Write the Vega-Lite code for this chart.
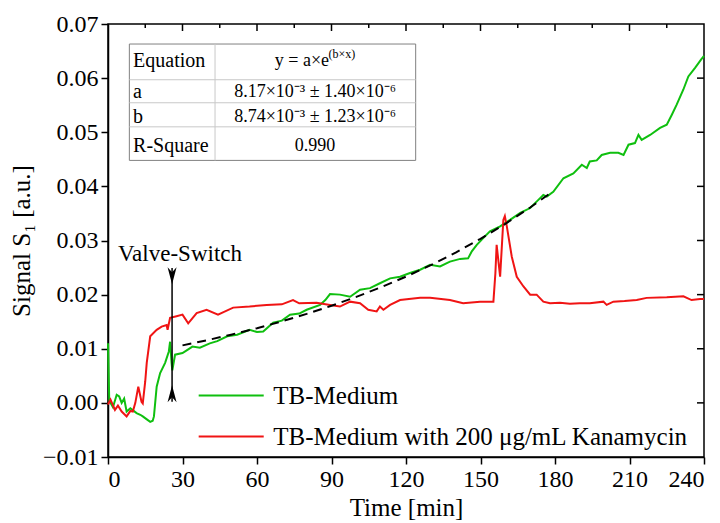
{
  "$schema": "https://vega.github.io/schema/vega-lite/v6.json",
  "width": 596,
  "height": 433,
  "autosize": {"type": "none"},
  "padding": {"left": 108, "top": 24, "right": 16, "bottom": 66},
  "background": "white",
  "config": {
    "font": "Liberation Serif",
    "view": {"stroke": "black", "strokeWidth": 1.5},
    "axis": {
      "grid": false,
      "domainColor": "black",
      "domainWidth": 1.5,
      "tickColor": "black",
      "tickWidth": 1.5,
      "labelColor": "black",
      "titleColor": "black",
      "labelFont": "Liberation Serif",
      "titleFont": "Liberation Serif",
      "labelFontSize": 24,
      "titleFontSize": 25,
      "titleFontWeight": "normal"
    },
    "legend": {
      "labelFont": "Liberation Serif",
      "labelFontSize": 25,
      "labelColor": "black"
    }
  },
  "datasets": {
    "series": [
      {"series": "TB-Medium", "t": 0, "v": 0.011},
      {"series": "TB-Medium", "t": 0.5, "v": 0.0005},
      {"series": "TB-Medium", "t": 1, "v": 0.0},
      {"series": "TB-Medium", "t": 2, "v": -0.0008},
      {"series": "TB-Medium", "t": 3.5, "v": 0.0015},
      {"series": "TB-Medium", "t": 4.5, "v": 0.0012},
      {"series": "TB-Medium", "t": 5.5, "v": 0.0},
      {"series": "TB-Medium", "t": 6.5, "v": 0.0008},
      {"series": "TB-Medium", "t": 7.5, "v": -0.0016},
      {"series": "TB-Medium", "t": 9, "v": -0.001},
      {"series": "TB-Medium", "t": 11.5, "v": -0.0019},
      {"series": "TB-Medium", "t": 13, "v": -0.0022},
      {"series": "TB-Medium", "t": 14, "v": -0.0025},
      {"series": "TB-Medium", "t": 15.5, "v": -0.003},
      {"series": "TB-Medium", "t": 17, "v": -0.0035},
      {"series": "TB-Medium", "t": 18, "v": -0.0033},
      {"series": "TB-Medium", "t": 18.5, "v": -0.0025},
      {"series": "TB-Medium", "t": 19.6, "v": 0.003},
      {"series": "TB-Medium", "t": 21, "v": 0.0055},
      {"series": "TB-Medium", "t": 23, "v": 0.0074},
      {"series": "TB-Medium", "t": 24.5, "v": 0.0095},
      {"series": "TB-Medium", "t": 25, "v": 0.0113},
      {"series": "TB-Medium", "t": 25.6, "v": 0.0074},
      {"series": "TB-Medium", "t": 25.9, "v": 0.006},
      {"series": "TB-Medium", "t": 27, "v": 0.0089},
      {"series": "TB-Medium", "t": 30, "v": 0.0092},
      {"series": "TB-Medium", "t": 32, "v": 0.0098},
      {"series": "TB-Medium", "t": 34, "v": 0.0104},
      {"series": "TB-Medium", "t": 37, "v": 0.0102},
      {"series": "TB-Medium", "t": 41, "v": 0.011},
      {"series": "TB-Medium", "t": 44, "v": 0.0114},
      {"series": "TB-Medium", "t": 48, "v": 0.0123},
      {"series": "TB-Medium", "t": 52, "v": 0.0126},
      {"series": "TB-Medium", "t": 57, "v": 0.0135},
      {"series": "TB-Medium", "t": 60, "v": 0.0131},
      {"series": "TB-Medium", "t": 62.5, "v": 0.0132},
      {"series": "TB-Medium", "t": 66.5, "v": 0.0148},
      {"series": "TB-Medium", "t": 70, "v": 0.0152},
      {"series": "TB-Medium", "t": 73.3, "v": 0.0163},
      {"series": "TB-Medium", "t": 77, "v": 0.0165},
      {"series": "TB-Medium", "t": 80, "v": 0.0172},
      {"series": "TB-Medium", "t": 85.4, "v": 0.0181},
      {"series": "TB-Medium", "t": 87.5, "v": 0.019},
      {"series": "TB-Medium", "t": 89.4, "v": 0.0201},
      {"series": "TB-Medium", "t": 93.4, "v": 0.02},
      {"series": "TB-Medium", "t": 97.5, "v": 0.0196},
      {"series": "TB-Medium", "t": 101.5, "v": 0.0209},
      {"series": "TB-Medium", "t": 105.5, "v": 0.0212},
      {"series": "TB-Medium", "t": 109.5, "v": 0.0221},
      {"series": "TB-Medium", "t": 113.6, "v": 0.023},
      {"series": "TB-Medium", "t": 117.6, "v": 0.0233},
      {"series": "TB-Medium", "t": 121.6, "v": 0.024},
      {"series": "TB-Medium", "t": 125.7, "v": 0.0246},
      {"series": "TB-Medium", "t": 129.7, "v": 0.0255},
      {"series": "TB-Medium", "t": 133.7, "v": 0.0252},
      {"series": "TB-Medium", "t": 137.7, "v": 0.0261},
      {"series": "TB-Medium", "t": 141.8, "v": 0.0266},
      {"series": "TB-Medium", "t": 145, "v": 0.0267},
      {"series": "TB-Medium", "t": 146.5, "v": 0.028},
      {"series": "TB-Medium", "t": 148.5, "v": 0.0292},
      {"series": "TB-Medium", "t": 151, "v": 0.0304},
      {"series": "TB-Medium", "t": 153.8, "v": 0.0317},
      {"series": "TB-Medium", "t": 157.9, "v": 0.0326},
      {"series": "TB-Medium", "t": 161.9, "v": 0.0338},
      {"series": "TB-Medium", "t": 166, "v": 0.0351},
      {"series": "TB-Medium", "t": 170, "v": 0.036},
      {"series": "TB-Medium", "t": 173.3, "v": 0.0375},
      {"series": "TB-Medium", "t": 175.3, "v": 0.0384},
      {"series": "TB-Medium", "t": 176.7, "v": 0.0381},
      {"series": "TB-Medium", "t": 179.3, "v": 0.039},
      {"series": "TB-Medium", "t": 183.4, "v": 0.0415},
      {"series": "TB-Medium", "t": 187.4, "v": 0.0424},
      {"series": "TB-Medium", "t": 190.8, "v": 0.044},
      {"series": "TB-Medium", "t": 192.8, "v": 0.0434},
      {"series": "TB-Medium", "t": 194, "v": 0.0446},
      {"series": "TB-Medium", "t": 196.8, "v": 0.0448},
      {"series": "TB-Medium", "t": 198.8, "v": 0.0458},
      {"series": "TB-Medium", "t": 202.2, "v": 0.0462},
      {"series": "TB-Medium", "t": 205.5, "v": 0.0462},
      {"series": "TB-Medium", "t": 207.6, "v": 0.0458},
      {"series": "TB-Medium", "t": 209.6, "v": 0.0477},
      {"series": "TB-Medium", "t": 212.2, "v": 0.048},
      {"series": "TB-Medium", "t": 213.6, "v": 0.0495},
      {"series": "TB-Medium", "t": 214.9, "v": 0.0486},
      {"series": "TB-Medium", "t": 218.3, "v": 0.0495},
      {"series": "TB-Medium", "t": 222.3, "v": 0.0508},
      {"series": "TB-Medium", "t": 225, "v": 0.0514},
      {"series": "TB-Medium", "t": 227, "v": 0.0532},
      {"series": "TB-Medium", "t": 229, "v": 0.0551},
      {"series": "TB-Medium", "t": 231.7, "v": 0.0579},
      {"series": "TB-Medium", "t": 233.7, "v": 0.0603},
      {"series": "TB-Medium", "t": 236.4, "v": 0.0619},
      {"series": "TB-Medium", "t": 238.8, "v": 0.0634},
      {"series": "TB-Medium", "t": 240, "v": 0.0641},
      {"series": "TB-Medium with 200 μg/mL Kanamycin", "t": 0, "v": -0.0003},
      {"series": "TB-Medium with 200 μg/mL Kanamycin", "t": 1, "v": 0.0006},
      {"series": "TB-Medium with 200 μg/mL Kanamycin", "t": 2.8, "v": -0.0013},
      {"series": "TB-Medium with 200 μg/mL Kanamycin", "t": 4, "v": -0.0005},
      {"series": "TB-Medium with 200 μg/mL Kanamycin", "t": 5.5, "v": -0.0016},
      {"series": "TB-Medium with 200 μg/mL Kanamycin", "t": 7.5, "v": -0.0025},
      {"series": "TB-Medium with 200 μg/mL Kanamycin", "t": 9, "v": -0.0015},
      {"series": "TB-Medium with 200 μg/mL Kanamycin", "t": 10, "v": -0.0016},
      {"series": "TB-Medium with 200 μg/mL Kanamycin", "t": 11, "v": 0.0},
      {"series": "TB-Medium with 200 μg/mL Kanamycin", "t": 12.2, "v": 0.003},
      {"series": "TB-Medium with 200 μg/mL Kanamycin", "t": 13.5, "v": 0.0002},
      {"series": "TB-Medium with 200 μg/mL Kanamycin", "t": 14, "v": -0.0001},
      {"series": "TB-Medium with 200 μg/mL Kanamycin", "t": 15, "v": 0.004},
      {"series": "TB-Medium with 200 μg/mL Kanamycin", "t": 15.6, "v": 0.0074},
      {"series": "TB-Medium with 200 μg/mL Kanamycin", "t": 17, "v": 0.0123},
      {"series": "TB-Medium with 200 μg/mL Kanamycin", "t": 19.6, "v": 0.0135},
      {"series": "TB-Medium with 200 μg/mL Kanamycin", "t": 21.6, "v": 0.0141},
      {"series": "TB-Medium with 200 μg/mL Kanamycin", "t": 23.6, "v": 0.0144},
      {"series": "TB-Medium with 200 μg/mL Kanamycin", "t": 24, "v": 0.0135},
      {"series": "TB-Medium with 200 μg/mL Kanamycin", "t": 25, "v": 0.0157},
      {"series": "TB-Medium with 200 μg/mL Kanamycin", "t": 27.6, "v": 0.016},
      {"series": "TB-Medium with 200 μg/mL Kanamycin", "t": 30, "v": 0.0163},
      {"series": "TB-Medium with 200 μg/mL Kanamycin", "t": 32.3, "v": 0.0147},
      {"series": "TB-Medium with 200 μg/mL Kanamycin", "t": 35.7, "v": 0.0166},
      {"series": "TB-Medium with 200 μg/mL Kanamycin", "t": 39.7, "v": 0.0172},
      {"series": "TB-Medium with 200 μg/mL Kanamycin", "t": 44.3, "v": 0.0163},
      {"series": "TB-Medium with 200 μg/mL Kanamycin", "t": 50.4, "v": 0.0176},
      {"series": "TB-Medium with 200 μg/mL Kanamycin", "t": 57, "v": 0.0178},
      {"series": "TB-Medium with 200 μg/mL Kanamycin", "t": 63.9, "v": 0.0181},
      {"series": "TB-Medium with 200 μg/mL Kanamycin", "t": 70, "v": 0.0182},
      {"series": "TB-Medium with 200 μg/mL Kanamycin", "t": 74.5, "v": 0.019},
      {"series": "TB-Medium with 200 μg/mL Kanamycin", "t": 77, "v": 0.0184},
      {"series": "TB-Medium with 200 μg/mL Kanamycin", "t": 84, "v": 0.0185},
      {"series": "TB-Medium with 200 μg/mL Kanamycin", "t": 89.4, "v": 0.0181},
      {"series": "TB-Medium with 200 μg/mL Kanamycin", "t": 93.4, "v": 0.0178},
      {"series": "TB-Medium with 200 μg/mL Kanamycin", "t": 97.5, "v": 0.0187},
      {"series": "TB-Medium with 200 μg/mL Kanamycin", "t": 101.5, "v": 0.0184},
      {"series": "TB-Medium with 200 μg/mL Kanamycin", "t": 104.8, "v": 0.0172},
      {"series": "TB-Medium with 200 μg/mL Kanamycin", "t": 108.2, "v": 0.0169},
      {"series": "TB-Medium with 200 μg/mL Kanamycin", "t": 109.5, "v": 0.0178},
      {"series": "TB-Medium with 200 μg/mL Kanamycin", "t": 110.9, "v": 0.0172},
      {"series": "TB-Medium with 200 μg/mL Kanamycin", "t": 113.6, "v": 0.0181},
      {"series": "TB-Medium with 200 μg/mL Kanamycin", "t": 117.6, "v": 0.019},
      {"series": "TB-Medium with 200 μg/mL Kanamycin", "t": 125.7, "v": 0.0194},
      {"series": "TB-Medium with 200 μg/mL Kanamycin", "t": 129.7, "v": 0.0194},
      {"series": "TB-Medium with 200 μg/mL Kanamycin", "t": 137.7, "v": 0.019},
      {"series": "TB-Medium with 200 μg/mL Kanamycin", "t": 143, "v": 0.0184},
      {"series": "TB-Medium with 200 μg/mL Kanamycin", "t": 149.8, "v": 0.0187},
      {"series": "TB-Medium with 200 μg/mL Kanamycin", "t": 155.2, "v": 0.0187},
      {"series": "TB-Medium with 200 μg/mL Kanamycin", "t": 156, "v": 0.024},
      {"series": "TB-Medium with 200 μg/mL Kanamycin", "t": 156.5, "v": 0.0292},
      {"series": "TB-Medium with 200 μg/mL Kanamycin", "t": 157.9, "v": 0.0233},
      {"series": "TB-Medium with 200 μg/mL Kanamycin", "t": 159.2, "v": 0.0338},
      {"series": "TB-Medium with 200 μg/mL Kanamycin", "t": 159.8, "v": 0.0345},
      {"series": "TB-Medium with 200 μg/mL Kanamycin", "t": 160.6, "v": 0.0326},
      {"series": "TB-Medium with 200 μg/mL Kanamycin", "t": 162.6, "v": 0.027},
      {"series": "TB-Medium with 200 μg/mL Kanamycin", "t": 164.6, "v": 0.0233},
      {"series": "TB-Medium with 200 μg/mL Kanamycin", "t": 167.3, "v": 0.0215},
      {"series": "TB-Medium with 200 μg/mL Kanamycin", "t": 170, "v": 0.02},
      {"series": "TB-Medium with 200 μg/mL Kanamycin", "t": 172.6, "v": 0.02},
      {"series": "TB-Medium with 200 μg/mL Kanamycin", "t": 175.3, "v": 0.0187},
      {"series": "TB-Medium with 200 μg/mL Kanamycin", "t": 178, "v": 0.0184},
      {"series": "TB-Medium with 200 μg/mL Kanamycin", "t": 182, "v": 0.0185},
      {"series": "TB-Medium with 200 μg/mL Kanamycin", "t": 186, "v": 0.0183},
      {"series": "TB-Medium with 200 μg/mL Kanamycin", "t": 190, "v": 0.0184},
      {"series": "TB-Medium with 200 μg/mL Kanamycin", "t": 194, "v": 0.0184},
      {"series": "TB-Medium with 200 μg/mL Kanamycin", "t": 199.5, "v": 0.0187},
      {"series": "TB-Medium with 200 μg/mL Kanamycin", "t": 200.8, "v": 0.0181},
      {"series": "TB-Medium with 200 μg/mL Kanamycin", "t": 203.5, "v": 0.0187},
      {"series": "TB-Medium with 200 μg/mL Kanamycin", "t": 208, "v": 0.0188},
      {"series": "TB-Medium with 200 μg/mL Kanamycin", "t": 212.9, "v": 0.019},
      {"series": "TB-Medium with 200 μg/mL Kanamycin", "t": 216.9, "v": 0.0194},
      {"series": "TB-Medium with 200 μg/mL Kanamycin", "t": 225, "v": 0.0195},
      {"series": "TB-Medium with 200 μg/mL Kanamycin", "t": 231.7, "v": 0.0197},
      {"series": "TB-Medium with 200 μg/mL Kanamycin", "t": 235, "v": 0.019},
      {"series": "TB-Medium with 200 μg/mL Kanamycin", "t": 238.4, "v": 0.0192},
      {"series": "TB-Medium with 200 μg/mL Kanamycin", "t": 240, "v": 0.0192}
    ],
    "fit": [
      {"t": 30, "v": 0.01062},
      {"t": 40, "v": 0.01159},
      {"t": 50, "v": 0.01265},
      {"t": 60, "v": 0.0138},
      {"t": 70, "v": 0.01506},
      {"t": 80, "v": 0.01644},
      {"t": 90, "v": 0.01794},
      {"t": 100, "v": 0.01958},
      {"t": 110, "v": 0.02137},
      {"t": 120, "v": 0.02332},
      {"t": 130, "v": 0.02545},
      {"t": 140, "v": 0.02777},
      {"t": 150, "v": 0.03031},
      {"t": 160, "v": 0.03308},
      {"t": 170, "v": 0.0361},
      {"t": 178, "v": 0.03871}
    ],
    "topMajor": [{"t": 30}, {"t": 60}, {"t": 90}, {"t": 120}, {"t": 150}, {"t": 180}, {"t": 210}],
    "topMinor": [{"t": 15}, {"t": 45}, {"t": 75}, {"t": 105}, {"t": 135}, {"t": 165}, {"t": 195}, {"t": 225}],
    "rightMajor": [{"v": 0}, {"v": 0.01}, {"v": 0.02}, {"v": 0.03}, {"v": 0.04}, {"v": 0.05}, {"v": 0.06}],
    "hlines": [
      {"v": 0.0597},
      {"v": 0.05545},
      {"v": 0.051}
    ],
    "tlabels": [
      {"label": "Equation", "v": 0.0631},
      {"label": "a", "v": 0.0575},
      {"label": "b", "v": 0.0529},
      {"label": "R-Square", "v": 0.0474}
    ],
    "tvalues": [
      {"value": "8.17×10⁻³ ± 1.40×10⁻⁶", "v": 0.0575},
      {"value": "8.74×10⁻³ ± 1.23×10⁻⁶", "v": 0.0529},
      {"value": "0.990", "v": 0.0474}
    ],
    "one": [{}]
  },
  "layer": [
    {
      "data": {"name": "series"},
      "mark": {"type": "line", "strokeWidth": 2},
      "encoding": {
        "x": {
          "field": "t", "type": "quantitative",
          "scale": {"domain": [0, 240], "nice": false, "zero": false},
          "axis": {
            "title": "Time [min]",
            "labelFont": "Liberation Serif",
            "titleFont": "Liberation Serif",
            "values": [0, 15, 30, 45, 60, 75, 90, 105, 120, 135, 150, 165, 180, 195, 210, 225, 240],
            "labelExpr": "datum.value % 30 === 0 ? datum.label : ''",
            "format": "d",
            "labelOverlap": false,
            "tickSize": {"condition": {"test": "datum.value % 30 === 0", "value": 7}, "value": 4},
            "labelPadding": 3,
            "titlePadding": 4
          }
        },
        "y": {
          "field": "v", "type": "quantitative",
          "scale": {"domain": [-0.01, 0.07], "nice": false, "zero": false},
          "axis": {
            "title": "Signal S₁ [a.u.]",
            "labelFont": "Liberation Serif",
            "titleFont": "Liberation Serif",
            "values": [-0.01, 0, 0.01, 0.02, 0.03, 0.04, 0.05, 0.06, 0.07],
            "format": ".2f",
            "tickSize": 7,
            "labelPadding": 3,
            "titlePadding": 8
          }
        },
        "color": {
          "field": "series", "type": "nominal",
          "scale": {
            "domain": ["TB-Medium", "TB-Medium with 200 μg/mL Kanamycin"],
            "range": ["#0fbf0f", "#f01414"]
          },
          "legend": {
            "orient": "none",
            "legendX": 110.7,
            "legendY": 359,
            "title": null,
            "padding": 0,
            "symbolType": "M-3,0H3",
            "symbolSize": 470,
            "symbolStrokeWidth": 2.2,
            "labelOffset": 29.6,
            "rowPadding": 15,
            "labelLimit": 700
          }
        }
      }
    },
    {
      "data": {"name": "fit"},
      "mark": {"type": "line", "color": "black", "strokeWidth": 2, "strokeDash": [9, 6]},
      "encoding": {
        "x": {"field": "t", "type": "quantitative"},
        "y": {"field": "v", "type": "quantitative"}
      }
    },
    {
      "data": {"name": "topMajor"},
      "mark": {"type": "rule", "color": "black", "strokeWidth": 1.5, "y2Offset": 7},
      "encoding": {
        "x": {"field": "t", "type": "quantitative"},
        "y": {"datum": 0.07, "type": "quantitative"},
        "y2": {"datum": 0.07}
      }
    },
    {
      "data": {"name": "topMinor"},
      "mark": {"type": "rule", "color": "black", "strokeWidth": 1.5, "y2Offset": 4},
      "encoding": {
        "x": {"field": "t", "type": "quantitative"},
        "y": {"datum": 0.07, "type": "quantitative"},
        "y2": {"datum": 0.07}
      }
    },
    {
      "data": {"name": "rightMajor"},
      "mark": {"type": "rule", "color": "black", "strokeWidth": 1.5, "x2Offset": -7},
      "encoding": {
        "y": {"field": "v", "type": "quantitative"},
        "x": {"datum": 240, "type": "quantitative"},
        "x2": {"datum": 240}
      }
    },
    {
      "data": {"name": "one"},
      "mark": {"type": "rule", "color": "black", "strokeWidth": 1.5},
      "encoding": {
        "x": {"datum": 25.8, "type": "quantitative"},
        "y": {"datum": 0.0002, "type": "quantitative"},
        "y2": {"datum": 0.0249}
      }
    },
    {
      "data": {"name": "one"},
      "mark": {"type": "point", "shape": "M-0.45,-0.85L0,-0.35L0.45,-0.85L0,0.85Z", "filled": true, "color": "black", "opacity": 1, "size": 400},
      "encoding": {
        "x": {"datum": 25.8, "type": "quantitative"},
        "y": {"datum": 0.0235, "type": "quantitative"}
      }
    },
    {
      "data": {"name": "one"},
      "mark": {"type": "point", "shape": "M-0.45,0.85L0,0.35L0.45,0.85L0,-0.85Z", "filled": true, "color": "black", "opacity": 1, "size": 400},
      "encoding": {
        "x": {"datum": 25.8, "type": "quantitative"},
        "y": {"datum": 0.0017, "type": "quantitative"}
      }
    },
    {
      "data": {"name": "one"},
      "mark": {"type": "text", "text": "Valve-Switch", "fontSize": 23, "font": "Liberation Serif", "color": "black", "align": "center", "baseline": "middle"},
      "encoding": {
        "x": {"datum": 29, "type": "quantitative"},
        "y": {"datum": 0.0275, "type": "quantitative"}
      }
    },
    {
      "data": {"name": "one"},
      "mark": {"type": "rect", "fill": "white", "stroke": "#808080", "strokeWidth": 1},
      "encoding": {
        "x": {"datum": 8.6, "type": "quantitative"},
        "x2": {"datum": 123.9},
        "y": {"datum": 0.0663, "type": "quantitative"},
        "y2": {"datum": 0.0448}
      }
    },
    {
      "data": {"name": "one"},
      "mark": {"type": "rule", "color": "#c8c8c8", "strokeWidth": 1},
      "encoding": {
        "x": {"datum": 43.1, "type": "quantitative"},
        "y": {"datum": 0.0663, "type": "quantitative"},
        "y2": {"datum": 0.0448}
      }
    },
    {
      "data": {"name": "hlines"},
      "mark": {"type": "rule", "color": "#c8c8c8", "strokeWidth": 1},
      "encoding": {
        "x": {"datum": 8.6, "type": "quantitative"},
        "x2": {"datum": 123.9},
        "y": {"field": "v", "type": "quantitative"}
      }
    },
    {
      "data": {"name": "tlabels"},
      "mark": {"type": "text", "fontSize": 20, "font": "Liberation Serif", "color": "black", "align": "left", "baseline": "middle"},
      "encoding": {
        "x": {"datum": 10.1, "type": "quantitative"},
        "y": {"field": "v", "type": "quantitative"},
        "text": {"field": "label"}
      }
    },
    {
      "data": {"name": "tvalues"},
      "mark": {"type": "text", "fontSize": 18, "font": "Liberation Serif", "color": "black", "align": "center", "baseline": "middle"},
      "encoding": {
        "x": {"datum": 83.4, "type": "quantitative"},
        "y": {"field": "v", "type": "quantitative"},
        "text": {"field": "value"}
      }
    },
    {
      "data": {"name": "one"},
      "mark": {"type": "text", "text": "y = a×e", "fontSize": 18, "font": "Liberation Serif", "color": "black", "align": "center", "baseline": "middle"},
      "encoding": {
        "x": {"datum": 78.1, "type": "quantitative"},
        "y": {"datum": 0.0631, "type": "quantitative"}
      }
    },
    {
      "data": {"name": "one"},
      "mark": {"type": "text", "text": "(b×x)", "fontSize": 12, "font": "Liberation Serif", "color": "black", "align": "center", "baseline": "middle"},
      "encoding": {
        "x": {"datum": 94.2, "type": "quantitative"},
        "y": {"datum": 0.0645, "type": "quantitative"}
      }
    }
  ]
}
